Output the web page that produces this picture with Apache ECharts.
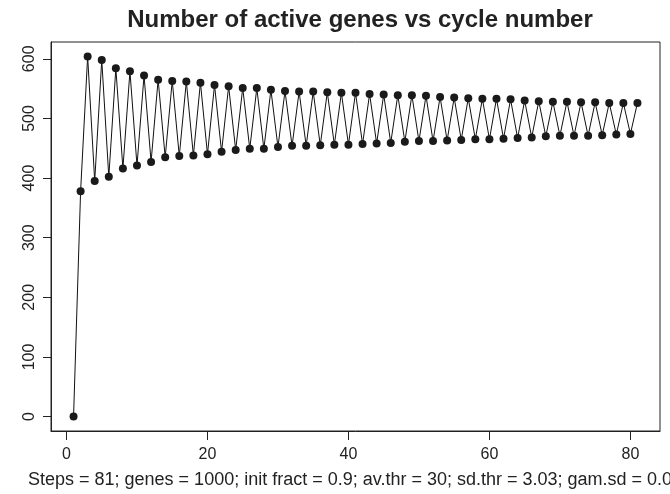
<!DOCTYPE html>
<html>
<head>
<meta charset="utf-8">
<script src="https://cdn.jsdelivr.net/npm/echarts@6/dist/echarts.min.js"></script>
<style>
  html, body { margin: 0; padding: 0; background: #fff; }
  #chart { width: 670px; height: 494px; }
</style>
</head>
<body>
<div id="chart"></div>
<script>
// Number of active genes at each simulation cycle (cycles 1..81)
const activeGenes = [
  0, 378, 604, 395, 598, 402, 584, 416, 579, 421,
  572, 427, 565, 435, 563, 437, 562, 438, 560, 440,
  556, 444, 554, 447, 551, 449, 551, 449, 548, 452,
  546, 454, 545, 454, 545, 455, 544, 456, 543, 456,
  543, 457, 541, 458, 540, 459, 539, 461, 539, 462,
  538, 462, 536, 463, 535, 464, 534, 465, 533, 465,
  533, 466, 532, 467, 530, 468, 529, 470, 528, 471,
  528, 471, 527, 471, 527, 472, 526, 473, 526, 474,
  526
];
const xTicks = [0, 20, 40, 60, 80];
const yTicks = [0, 100, 200, 300, 400, 500, 600];

const titleText = 'Number of active genes vs cycle number';
const subText = 'Steps = 81; genes = 1000; init fract = 0.9; av.thr = 30; sd.thr = 3.03; gam.sd = 0.05';

const FONT = "'Liberation Sans', Arial, Helvetica, sans-serif";
const X_MIN = -2.2, X_MAX = 84.2, Y_MIN = -24.2, Y_MAX = 628.2;

const points = activeGenes.map((v, i) => [i + 1, v]);

const chart = echarts.init(document.getElementById('chart'), null, { renderer: 'canvas' });
chart.setOption({
  animation: false,
  backgroundColor: '#ffffff',
  grid: {
    left: 51, top: 42, right: 10, bottom: 63,
    show: true, borderColor: '#222', borderWidth: 1, backgroundColor: 'transparent'
  },
  title: {
    text: titleText,
    left: 355,
    top: 3,
    textAlign: 'center',
    textStyle: { fontFamily: FONT, fontSize: 24, fontWeight: 'bold', color: '#222' }
  },
  graphic: [{
    type: 'text',
    left: 28,
    top: 471,
    style: { text: subText, font: '18px ' + FONT, fill: '#222' }
  }],
  xAxis: {
    type: 'value',
    min: X_MIN, max: X_MAX,
    axisLine: { show: true, onZero: false, lineStyle: { color: '#222', width: 1 } },
    splitLine: { show: false },
    axisTick: { show: true, length: 9, lineStyle: { color: '#222', width: 1 }, customValues: xTicks },
    axisLabel: { fontFamily: FONT, fontSize: 16, color: '#222', margin: 16, customValues: xTicks }
  },
  yAxis: {
    type: 'value',
    min: Y_MIN, max: Y_MAX,
    axisLine: { show: true, onZero: false, lineStyle: { color: '#222', width: 1 } },
    splitLine: { show: false },
    axisTick: { show: true, length: 8, lineStyle: { color: '#222', width: 1 }, customValues: yTicks },
    axisLabel: { fontFamily: FONT, fontSize: 16, color: '#222', margin: 13, rotate: 90, customValues: yTicks }
  },
  series: [{
    type: 'line',
    data: points,
    symbol: 'circle',
    symbolSize: 8,
    showAllSymbol: true,
    lineStyle: { color: '#111', width: 1 },
    itemStyle: { color: '#1a1a1a' }
  }]
});
</script>
</body>
</html>
